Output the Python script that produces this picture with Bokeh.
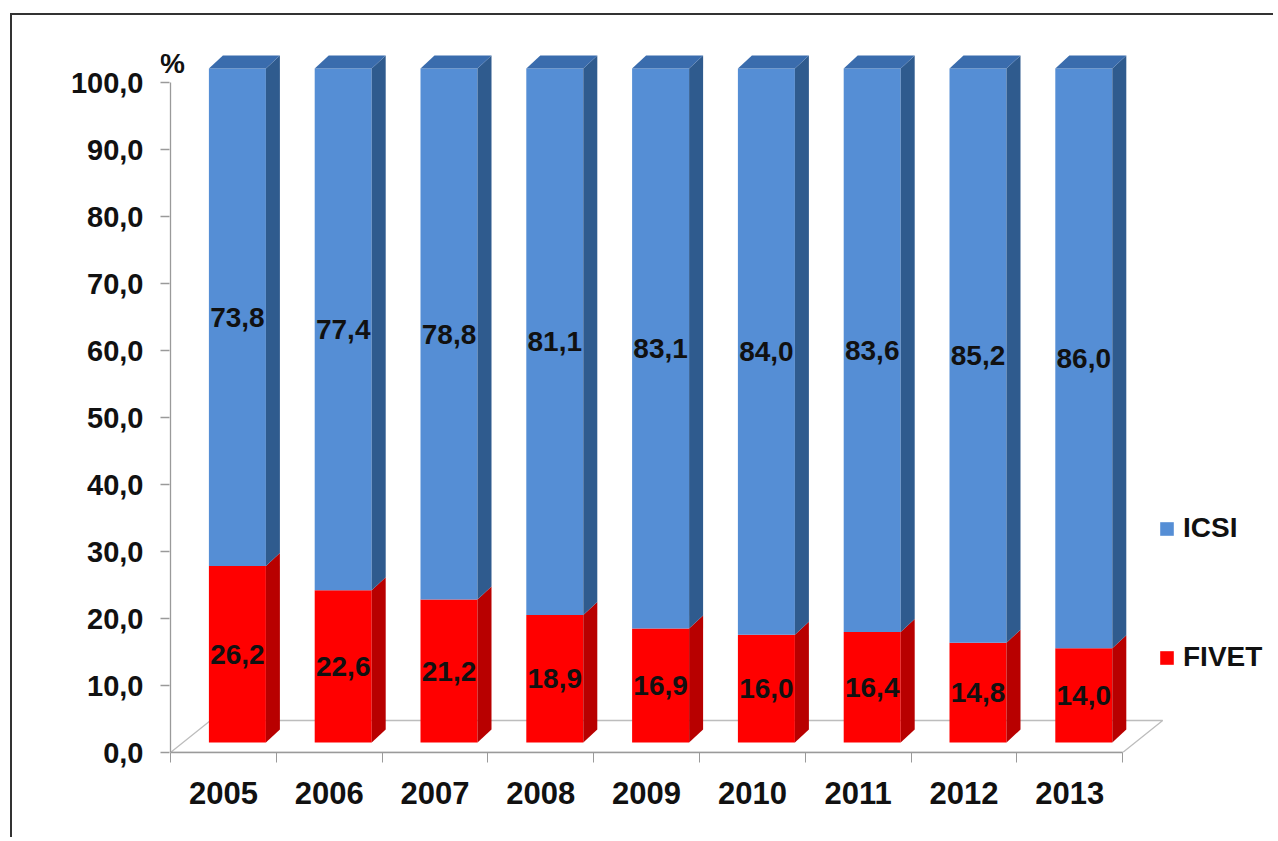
from bokeh.plotting import figure
from bokeh.models import Range1d, FixedTicker, Legend, LegendItem, Label
from bokeh.embed import file_html
from bokeh.resources import INLINE
from bokeh.core.properties import value

# ---- data ----
years = ["2005", "2006", "2007", "2008", "2009", "2010", "2011", "2012", "2013"]
fivet = [26.2, 22.6, 21.2, 18.9, 16.9, 16.0, 16.4, 14.8, 14.0]
icsi = [73.8, 77.4, 78.8, 81.1, 83.1, 84.0, 83.6, 85.2, 86.0]
y_ticks = [0, 10, 20, 30, 40, 50, 60, 70, 80, 90, 100]
y_tick_labels = ["0,0", "10,0", "20,0", "30,0", "40,0", "50,0", "60,0", "70,0", "80,0", "90,0", "100,0"]
series_names = ["ICSI", "FIVET"]

# ---- styling constants (pixels) ----
W, H = 1263, 824
ML, MB = 148, 87
FW, FH = W - ML, H - MB
PAD = 10                # axis line sits this far right of the frame edge
CAT_PX = 105.8          # px per category
Y_PX = 6.70             # px per % on the axis
Y_BAR = 6.74            # px per % for the bars (3D mid-depth)
BASE = 10               # bars' zero is this many px above the axis
SHIFT_PX = 14           # bars shifted right (3D)
BW = 57 / CAT_PX
DDX = 14 / CAT_PX
DDY = 13 / Y_BAR
FDX = 40 / CAT_PX
FDY = 32 / Y_PX

BLUE, BLUE_SIDE, BLUE_TOP = "#558ed5", "#2f5b8e", "#3a6cad"
RED, RED_SIDE = "#ff0000", "#b80000"
AXIS = "#9a9a9a"
FONT = "Liberation Sans"

p = figure(width=W, height=H, output_backend="svg", toolbar_location=None,
           x_range=Range1d(-PAD / CAT_PX, (FW - PAD) / CAT_PX),
           y_range=Range1d(0, FH / Y_PX),
           min_border_left=ML, min_border_right=0, min_border_top=0,
           min_border_bottom=MB)
p.extra_x_ranges = {"bx": Range1d(-(PAD + SHIFT_PX) / CAT_PX, (FW - PAD - SHIFT_PX) / CAT_PX)}
p.extra_y_ranges = {"by": Range1d(-BASE / Y_BAR, (FH - BASE) / Y_BAR)}
p.outline_line_color = None
p.grid.visible = False
p.background_fill_color = "white"
p.border_fill_color = "white"
p.styles = {"margin-left": "10px", "margin-top": "13px",
            "border-style": "solid none none solid",
            "border-width": "2px 0px 0px 2px",
            "border-color": "#333333"}

n = len(years)
centers = [i + 0.5 for i in range(n)]
totals = [f + c for f, c in zip(fivet, icsi)]

# floor
p.patch([0, n, n + FDX, FDX], [0, 0, FDY, FDY], fill_color=None,
        line_color="#bdbdbd", line_width=1.3)
# value axis line
p.segment(x0=[0], y0=[y_ticks[0]], x1=[0], y1=[y_ticks[-1]], line_color=AXIS, line_width=1.3)

# bars
kw = dict(x_range_name="bx", y_range_name="by")
r_f = p.vbar(x=centers, width=BW, bottom=0, top=fivet, fill_color=RED, line_color=None, **kw)
r_i = p.vbar(x=centers, width=BW, bottom=fivet, top=totals, fill_color=BLUE, line_color=None, **kw)

xr = [c + BW / 2 for c in centers]
xl = [c - BW / 2 for c in centers]
p.patches([[a, a + DDX, a + DDX, a] for a in xr],
          [[0, DDY, f + DDY, f] for f in fivet],
          fill_color=RED_SIDE, line_color=None, **kw)
p.patches([[a, a + DDX, a + DDX, a] for a in xr],
          [[f, f + DDY, t + DDY, t] for f, t in zip(fivet, totals)],
          fill_color=BLUE_SIDE, line_color=None, **kw)
p.patches([[l, l + DDX, r + DDX, r] for l, r in zip(xl, xr)],
          [[t, t + DDY, t + DDY, t] for t in totals],
          fill_color=BLUE_TOP, line_color=None, **kw)

# value labels
fmt = lambda v: f"{v:.1f}".replace(".", ",")
lab_kw = dict(text_align="center", text_baseline="middle", text_font=value(FONT),
              text_font_style="bold", text_font_size="28px", text_color="#111111")
p.text(x=centers, y=[f / 2 for f in fivet], text=[fmt(v) for v in fivet], **kw, **lab_kw)
p.text(x=centers, y=[f + c / 2 for f, c in zip(fivet, icsi)], text=[fmt(v) for v in icsi],
       **kw, **lab_kw)

# axes
xa = p.xaxis[0]
xa.ticker = FixedTicker(ticks=centers, minor_ticks=list(range(n + 1)))
xa.major_label_overrides = {c: y for c, y in zip(centers, years)}
xa.major_tick_out = 0
xa.major_tick_in = 0
xa.minor_tick_out = 10
xa.minor_tick_in = 0
xa.bounds = (0, n)
xa.axis_line_color = AXIS
xa.axis_line_width = 1.3
xa.minor_tick_line_color = AXIS
xa.major_label_standoff = 19
xa.major_label_text_font = FONT
xa.major_label_text_font_style = "bold"
xa.major_label_text_font_size = "31px"
xa.major_label_text_color = "#111111"

ya = p.yaxis[0]
ya.ticker = FixedTicker(ticks=y_ticks, minor_ticks=[])
ya.major_label_overrides = dict(zip(y_ticks, y_tick_labels))
ya.axis_line_color = None
ya.major_tick_out = 0
ya.major_tick_in = 9
ya.major_tick_line_color = AXIS
ya.major_tick_line_width = 1.3
ya.major_label_standoff = 17
ya.major_label_text_font = FONT
ya.major_label_text_font_style = "bold"
ya.major_label_text_font_size = "29px"
ya.major_label_text_color = "#111111"

p.add_layout(Label(x=0, y=y_ticks[-1], text="%", x_offset=2, y_offset=19,
                   text_align="center", text_baseline="middle",
                   text_font=FONT, text_font_style="bold", text_font_size="28px",
                   text_color="#111111"))

# legend
legend = Legend(items=[LegendItem(label=series_names[0], renderers=[r_i]),
                       LegendItem(label=series_names[1], renderers=[r_f])],
                location=(988 + PAD, 79), orientation="vertical",
                glyph_width=17, glyph_height=17, label_height=32, spacing=97,
                padding=0, margin=0, border_line_color=None,
                background_fill_alpha=0, label_standoff=8,
                label_text_font=FONT, label_text_font_style="bold",
                label_text_font_size="28px", label_text_color="#111111")
p.add_layout(legend)

open("out.html", "w").write(file_html(p, INLINE))
